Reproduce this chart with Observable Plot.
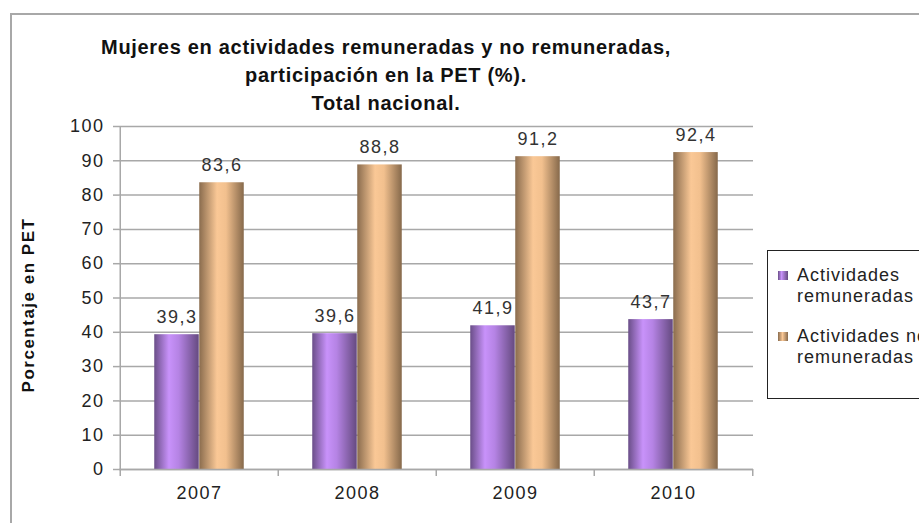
<!DOCTYPE html>
<html><head><meta charset="utf-8">
<script src="https://cdn.jsdelivr.net/npm/d3@7"></script>
<script src="https://cdn.jsdelivr.net/npm/@observablehq/plot@0.6"></script>
<style>
html,body{margin:0;padding:0;background:#fff;overflow:hidden;}
#wrap{position:relative;width:919px;height:523px;overflow:hidden;font-family:"Liberation Sans",Arial,sans-serif;}
#frame{position:absolute;left:10px;top:13px;width:1000px;height:600px;border-top:2px solid #a8a8a8;border-left:2px solid #a8a8a8;}
#title{position:absolute;left:0;width:772px;top:33px;text-align:center;font-weight:bold;font-size:20px;line-height:28px;color:#111;letter-spacing:0.7px;}
#chart{position:absolute;left:0;top:0;}
#legend{position:absolute;left:767px;top:250px;width:220px;height:147px;border:1px solid #222;background:#fff;font-size:18px;line-height:21px;color:#222;letter-spacing:1px;}
.item{position:absolute;left:29px;white-space:nowrap;}
.sw{position:absolute;left:10px;width:10px;height:9px;}
</style>
</head><body>
<div id="wrap">
  <div id="frame"></div>
  <div id="chart"></div>
  <div id="title"></div>
  <div id="legend"></div>
</div>
<script>
const titleLines = ["Mujeres en actividades remuneradas y no remuneradas,", "participación en la PET (%).", "Total nacional."];
const years = ["2007", "2008", "2009", "2010"];
const remuneradas = [39.3, 39.6, 41.9, 43.7];
const noRemuneradas = [83.6, 88.8, 91.2, 92.4];
const seriesNames = ["Actividades remuneradas", "Actividades no remuneradas"];
const yTicks = [0, 10, 20, 30, 40, 50, 60, 70, 80, 90, 100];
const yLabel = "Porcentaje en PET";

const fmt = v => String(v).replace(".", ",");
const dataA = years.map((y, i) => ({year: y, value: remuneradas[i]}));
const dataB = years.map((y, i) => ({year: y, value: noRemuneradas[i]}));

const W = 919, H = 523, mL = 119, mR = 166, mT = 126, mB = 54;
const bw = (W - mL - mR) / years.length;
const barW = 45;
const outer = (bw - 2 * barW) / 2;
const grid = "#a8a8a8";

const plot = Plot.plot({
  width: W, height: H,
  marginLeft: mL, marginRight: mR, marginTop: mT, marginBottom: mB,
  style: {fontFamily: "'Liberation Sans', Arial, sans-serif", fontSize: "18px", color: "#222", background: "transparent", letterSpacing: "1.5px"},
  x: {domain: years, padding: 0, axis: null},
  y: {domain: [0, 100], axis: null},
  marks: [
    Plot.gridY(yTicks, {stroke: grid, strokeOpacity: 1, strokeWidth: 1.5}),
    Plot.axisY(yTicks, {tickSize: 6, tickPadding: 9, stroke: grid, strokeWidth: 1.5, fill: "#222", fontSize: 18, label: null}),
    Plot.barY(dataA, {x: "year", y: "value", fill: "url(#gA)", insetLeft: outer, insetRight: outer + barW}),
    Plot.barY(dataB, {x: "year", y: "value", fill: "url(#gB)", insetLeft: outer + barW, insetRight: outer}),
    Plot.ruleY([0], {stroke: grid, strokeWidth: 1.5}),
    Plot.ruleX([years[0]], {x: d => d, dx: -bw / 2, stroke: grid, strokeWidth: 1.5}),
    Plot.ruleX(years, {x: d => d, y1: 0, y2: 0, insetBottom: -7, dx: -bw / 2, stroke: grid, strokeWidth: 1.5}),
    Plot.ruleX([years[years.length - 1]], {x: d => d, y1: 0, y2: 0, insetBottom: -7, dx: bw / 2, stroke: grid, strokeWidth: 1.5}),
    Plot.axisX(years, {tickSize: 0, tickPadding: 17, fontSize: 18, fill: "#222", label: null}),
    Plot.text(dataA, {x: "year", y: "value", text: d => fmt(d.value), dx: -barW / 2, dy: -12, lineAnchor: "bottom", fontSize: 18, fill: "#333"}),
    Plot.text(dataB, {x: "year", y: "value", text: d => fmt(d.value), dx: barW / 2, dy: -12, lineAnchor: "bottom", fontSize: 18, fill: "#333"}),
    Plot.text([yLabel], {frameAnchor: "left", text: d => d, rotate: -90, textAnchor: "middle", dx: -91, dy: 7, fontWeight: "bold", fontSize: 17, fill: "#111"})
  ]
});

const ns = "http://www.w3.org/2000/svg";
const defs = document.createElementNS(ns, "defs");
defs.innerHTML = `
<linearGradient id="gA" x1="0" x2="1" y1="0" y2="0">
  <stop offset="0" stop-color="#6a4e88"/>
  <stop offset="0.33" stop-color="#c892fa"/>
  <stop offset="0.55" stop-color="#b583e4"/>
  <stop offset="1" stop-color="#654a80"/>
</linearGradient>
<linearGradient id="gB" x1="0" x2="1" y1="0" y2="0">
  <stop offset="0" stop-color="#8a6c4e"/>
  <stop offset="0.4" stop-color="#fac896"/>
  <stop offset="0.6" stop-color="#f2c08e"/>
  <stop offset="1" stop-color="#86694b"/>
</linearGradient>`;
plot.insertBefore(defs, plot.firstChild);
document.getElementById("chart").appendChild(plot);

document.getElementById("title").innerHTML = titleLines.map(t => `<div>${t}</div>`).join("");

const legend = document.getElementById("legend");
const swatchBg = [
  "linear-gradient(to right,#6a4e88,#c892fa 35%,#654a80)",
  "linear-gradient(to right,#8a6c4e,#fac896 45%,#86694b)"
];
const itemTops = [14, 75];
seriesNames.forEach((name, i) => {
  const words = name.split(" ");
  const first = words.slice(0, -1).join(" ");
  const last = words[words.length - 1];
  const it = document.createElement("div");
  it.className = "item";
  it.style.top = itemTops[i] + "px";
  it.innerHTML = `${first}<br>${last}`;
  legend.appendChild(it);
  const sw = document.createElement("div");
  sw.className = "sw";
  sw.style.top = (itemTops[i] + 6) + "px";
  sw.style.background = swatchBg[i];
  legend.appendChild(sw);
});
</script>
</body></html>
